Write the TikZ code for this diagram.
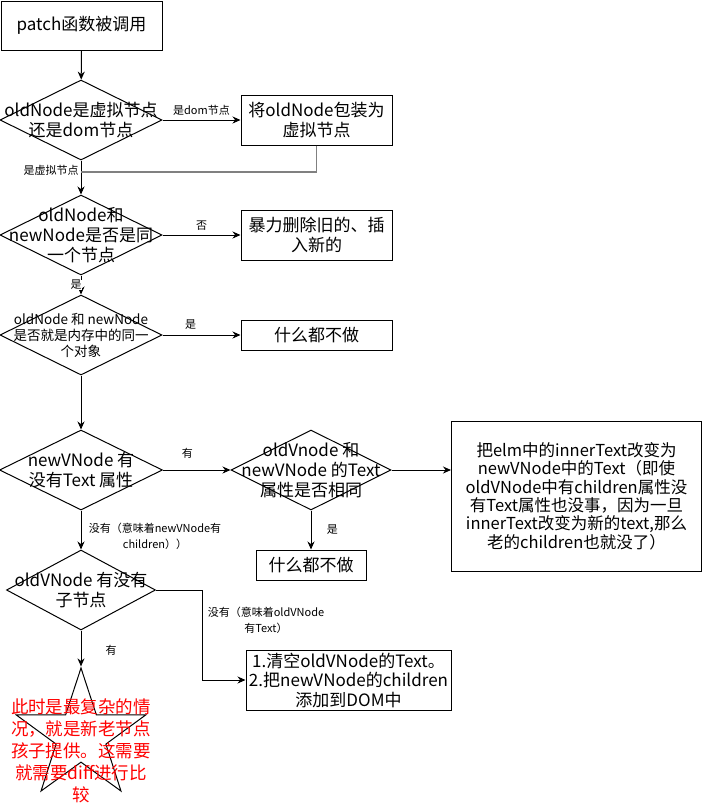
\documentclass[tikz,border=0pt]{standalone}
\usepackage{fontspec}
\setmainfont{Noto Sans CJK SC}
\usepackage{tikz}
\usetikzlibrary{shapes.geometric,arrows.meta}

\begin{document}
\begin{tikzpicture}[x=1pt, y=-1pt, line width=1pt, >={Stealth[length=8pt,width=7pt]},
    stepbox/.style={draw, rectangle, inner sep=0pt, align=center, font=\fontsize{17}{19.5}\selectfont},
    decision/.style={draw, diamond, inner sep=0pt, minimum width=162pt, minimum height=80pt},
    dtext/.style={align=center, font=\fontsize{17}{20}\selectfont},
    edgelbl/.style={align=center, font=\fontsize{11}{16}\selectfont}]
    \useasboundingbox (0,0) rectangle (703,804);

    % main column
    \node[stepbox, minimum width=161pt, minimum height=49pt] (start) at (81.5,25.5) {patch函数被调用};
    \node[decision, label={[dtext]center:oldNode是虚拟节点\\还是dom节点}] (isv) at (81,120) {};
    \node[stepbox, minimum width=151pt, minimum height=50pt] (wrap) at (316.5,120) {将oldNode包装为\\虚拟节点};
    \node[decision, label={[dtext]center:oldNode和\\newNode是否是同\\一个节点}] (same) at (81,235) {};
    \node[stepbox, minimum width=151pt, minimum height=50pt] (brute) at (316.5,235) {暴力删除旧的、插\\入新的};
    \node[decision, label={[dtext, font=\fontsize{13.5}{16}\selectfont]center:oldNode 和 newNode\\是否就是内存中的同一\\个对象}] (ident) at (81,335) {};
    \node[stepbox, minimum width=151pt, minimum height=30pt] (noop) at (316.5,335) {什么都不做};
    \node[decision, minimum width=163pt, label={[dtext]center:newVNode 有\\没有Text 属性}] (hastext) at (81,470) {};
    \node[decision, minimum width=160pt, label={[dtext]center:oldVnode 和\\newVNode 的Text\\属性是否相同}] (eqtext) at (311,470) {};
    \node[stepbox, minimum width=250pt, minimum height=150pt, font=\fontsize{16.5}{18.4}\selectfont] (settext) at (576.5,496) {把elm中的innerText改变为\\newVNode中的Text（即使\\oldVNode中有children属性没\\有Text属性也没事，因为一旦\\innerText改变为新的text,那么\\老的children也就没了）};
    \node[stepbox, minimum width=110pt, minimum height=30pt] (noop2) at (311,565) {什么都不做};
    \node[decision, minimum width=149pt, label={[dtext]center:oldVNode 有没有\\子节点}] (haskids) at (81,590) {};
    \node[stepbox, minimum width=205pt, minimum height=60pt] (addkids) at (348.5,680) {1.清空oldVNode的Text。\\2.把newVNode的children\\添加到DOM中};
    \node[draw, star, star points=5, star point ratio=2.6, minimum size=136pt, inner sep=0pt] (diff) at (81,736) {};
    \node[text=red, align=center, font=\fontsize{17.5}{22}\selectfont] (difftext) at (81,751) {此时是最复杂的情\\况，就是新老节点\\孩子提供。这需要\\就需要diff进行比\\较};

    \coordinate (join) at (81,172);
    \coordinate (bendtop) at (202,590);

    \draw[->] (start) -- (isv);
    \draw[->] (isv) -- (wrap) node[edgelbl, midway, above=1pt] (lbldom) {是dom节点};
    \draw[->] (isv) -- (same);
    \draw[gray, line width=1.3pt] (wrap.south) |- (join);
    \node[edgelbl] (lblvirt) at (51,170) {是虚拟节点};
    \draw[->] (same) -- (brute) node[edgelbl, midway, above=1pt] (lblno) {否};
    \draw[->] (same) -- (ident);
    \node[edgelbl, fill=white, inner sep=0.5pt] (lblyes1) at (76,285) {是};
    \draw[->] (ident) -- (noop) node[edgelbl, pos=0.36, above=2pt] (lblyes2) {是};
    \draw[->] (ident) -- (hastext);
    \draw[->] (hastext) -- (eqtext) node[edgelbl, pos=0.36, above=8pt] (lblhas) {有};
    \draw[->] (eqtext) -- (eqtext.east -| settext.west);
    \draw[->] (eqtext) -- (noop2) node[edgelbl, midway, right=12pt] (lblyes3) {是};
    \draw[->] (hastext) -- (haskids);
    \node[edgelbl] (lblnokids) at (155,536) {没有（意味着newVNode有\\children））};
    \draw[->] (haskids.east) -- (bendtop) |- (addkids.west);
    \node[edgelbl] (lblnotext) at (266,620) {没有（意味着oldVNode\\有Text）};
    \draw[->] (haskids) -- (diff.north);
    \node[edgelbl] (lblhaskids) at (111,650) {有};
\end{tikzpicture}
\end{document}
